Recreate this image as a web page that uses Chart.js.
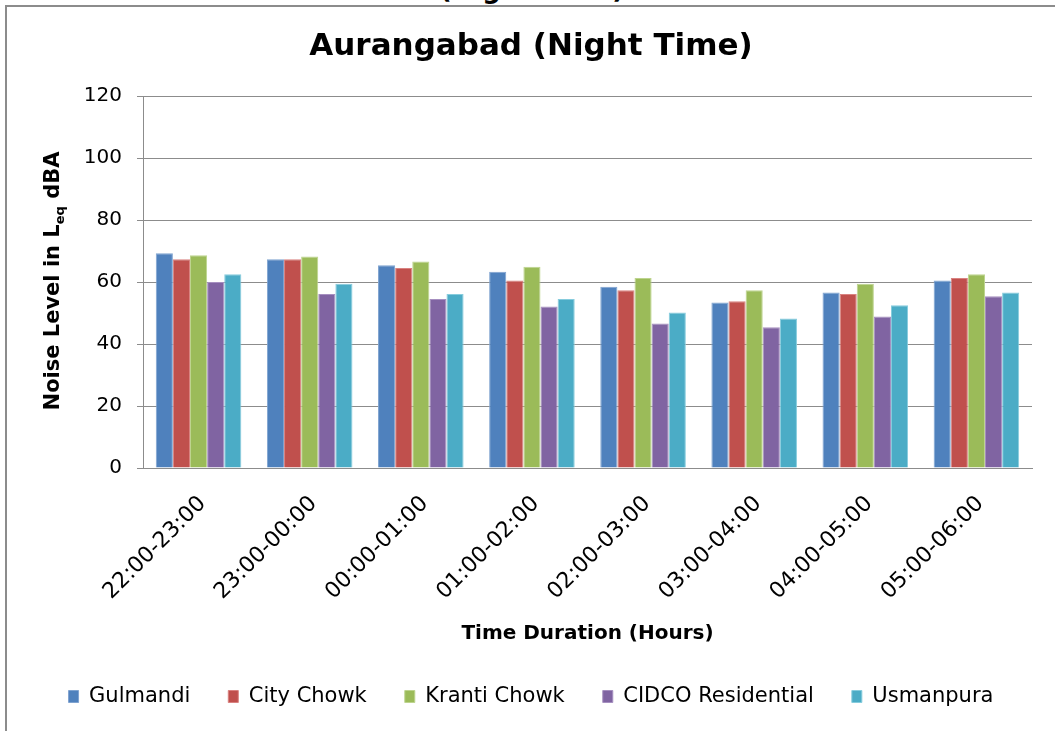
<!DOCTYPE html>
<html>
<head>
<meta charset="utf-8">
<script src="https://cdn.jsdelivr.net/npm/chart.js@4/dist/chart.umd.min.js"></script>
<style>
    html, body { margin: 0; padding: 0; background: #fff; overflow: hidden; }
    body { width: 1055px; height: 731px; position: relative; font-family: "DejaVu Sans", Verdana, sans-serif; }
    #above {
        position: absolute; left: 0; top: -24px; width: 1064px;
        text-align: center; font: bold 26px "DejaVu Sans", sans-serif; line-height: 26px;
        color: #000; z-index: 0;
    }
    #frame {
        position: absolute; left: 5px; top: 5px; width: 1060px; height: 740px;
        border-left: 2px solid #8c8c8c; border-top: 2px solid #8c8c8c;
        background: #fff; z-index: 1;
    }
    #wrap { position: absolute; left: 0; top: 0; width: 1048px; height: 710px; }
</style>
</head>
<body>
<div id="above">(Night Time)</div>
<div id="frame">
    <div id="wrap"><canvas id="c"></canvas></div>
</div>
<script>
// Time slots (x categories)
const timeSlots = ['22:00-23:00', '23:00-00:00', '00:00-01:00', '01:00-02:00',
    '02:00-03:00', '03:00-04:00', '04:00-05:00', '05:00-06:00'];

// Noise levels, Leq dBA
const gulmandi    = [69.3, 67.3, 65.4, 63.3, 58.5, 53.4, 56.6, 60.5];
const cityChowk   = [67.3, 67.3, 64.5, 60.5, 57.3, 53.8, 56.1, 61.3];
const krantiChowk = [68.6, 68.2, 66.6, 64.9, 61.3, 57.3, 59.4, 62.5];
const cidcoRes    = [60.0, 56.1, 54.5, 52.1, 46.6, 45.4, 48.9, 55.4];
const usmanpura   = [62.5, 59.4, 56.1, 54.5, 50.2, 48.2, 52.5, 56.6];

const seriesNames = ['Gulmandi', 'City Chowk', 'Kranti Chowk', 'CIDCO Residential', 'Usmanpura'];
const seriesValues = [gulmandi, cityChowk, krantiChowk, cidcoRes, usmanpura];

// Excel 2007 default palette + slightly lighter edges
const fills = ['#4F81BD', '#C0504D', '#9BBB59', '#8064A2', '#4BACC6'];
const edges = ['#7FA3D0', '#D98280', '#BDD48E', '#A68FC0', '#86CCDD'];

const FONT = '"DejaVu Sans", Verdana, sans-serif';
const GRID = '#8c8c8c';

// y-axis title has a subscript, so draw it by hand
const yTitlePlugin = {
    id: 'yTitle',
    afterDraw(chart) {
        const ctx = chart.ctx;
        const area = chart.chartArea;
        const parts = [
            { text: 'Noise Level in L', size: 21, dy: 0 },
            { text: 'eq', size: 13, dy: 5 },
            { text: ' dBA', size: 21, dy: 0 },
        ];
        ctx.save();
        let total = 0;
        parts.forEach(p => {
            ctx.font = `bold ${p.size}px ${FONT}`;
            p.w = ctx.measureText(p.text).width;
            total += p.w;
        });
        ctx.translate(45, (area.top + area.bottom) / 2 - 1);
        ctx.rotate(-Math.PI / 2);
        ctx.fillStyle = '#000';
        ctx.textBaseline = 'alphabetic';
        ctx.textAlign = 'left';
        let x = -total / 2;
        parts.forEach(p => {
            ctx.font = `bold ${p.size}px ${FONT}`;
            ctx.fillText(p.text, x, 7 + p.dy);
            x += p.w;
        });
        ctx.restore();
    }
};

new Chart(document.getElementById('c'), {
    type: 'bar',
    data: {
        labels: timeSlots,
        datasets: seriesNames.map((name, i) => ({
            label: name,
            data: seriesValues[i],
            backgroundColor: fills[i],
            borderColor: edges[i],
            borderWidth: 1,
            categoryPercentage: 0.77,
            barPercentage: 1.0,
        })),
    },
    options: {
        responsive: true,
        maintainAspectRatio: false,
        animation: false,
        layout: { padding: { left: 23, right: 23, top: 0, bottom: 0 } },
        plugins: {
            title: {
                display: true,
                text: 'Aurangabad (Night Time)',
                color: '#000',
                font: { family: FONT, size: 31, weight: 'bold', lineHeight: 1.2 },
                padding: { top: 21, bottom: 30.8 },
            },
            legend: {
                position: 'bottom',
                labels: {
                    color: '#000',
                    font: { family: FONT, size: 21 },
                    boxWidth: 10,
                    boxHeight: 12,
                    padding: 38,
                },
            },
            tooltip: { enabled: false },
        },
        scales: {
            x: {
                grid: { display: false, drawTicks: false },
                border: { color: GRID, width: 1 },
                ticks: {
                    color: '#000',
                    font: { family: FONT, size: 22 },
                    minRotation: 45,
                    maxRotation: 45,
                    padding: 23,
                    labelOffset: 4,
                    autoSkip: false,
                },
                title: {
                    display: true,
                    text: 'Time Duration (Hours)',
                    color: '#000',
                    font: { family: FONT, size: 20, weight: 'bold', lineHeight: 1.2 },
                    padding: { top: 0, bottom: 2 },
                },
                afterFit: scale => { scale.height = 180; },
            },
            y: {
                min: 0,
                max: 120,
                ticks: {
                    stepSize: 20,
                    color: '#000',
                    font: { family: FONT, size: 20 },
                    padding: 15,
                },
                grid: { color: GRID, tickLength: 6, lineWidth: 1 },
                border: { color: GRID, width: 1 },
                afterFit: scale => { scale.width = 113; },
            },
        },
    },
    plugins: [yTitlePlugin],
});
</script>
</body>
</html>
